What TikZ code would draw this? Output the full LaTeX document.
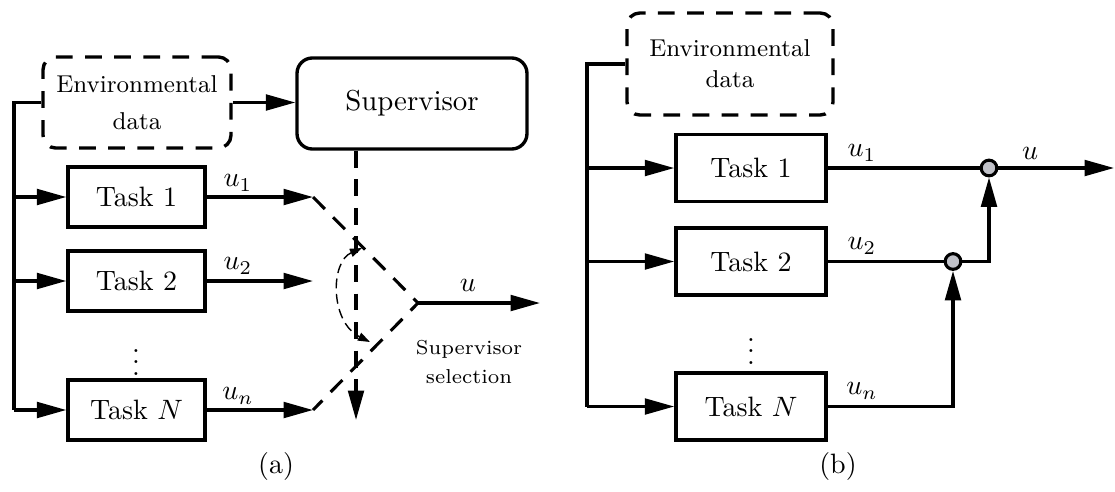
\documentclass[tikz,border=0pt]{standalone}
\usetikzlibrary{arrows.meta}
\definecolor{jfill}{RGB}{192,193,200}
\tikzset{
  box/.style={draw, line width=1.2pt, inner sep=0pt, font=\fontsize{10}{12}\selectfont},
  taskA/.style={box, minimum width=48.9pt, minimum height=21.4pt},
  taskB/.style={box, minimum width=53.6pt, minimum height=23.9pt},
  dbox/.style={draw, line width=1.2pt, dash pattern=on 6pt off 4.4pt, rounded corners=4.5pt,
    align=center, inner sep=0pt},
  wire/.style={line width=1.1pt},
  arr/.style={wire, -{Triangle[length=10.5pt,width=5.6pt]}},
  dwire/.style={line width=1.1pt, dash pattern=on 6pt off 4.2pt},
  darr/.style={dwire, -{Triangle[length=10.5pt,width=5.6pt]}},
  sel/.style={line width=0.5pt, dash pattern=on 3.5pt off 2pt,
    {Triangle[length=4.3pt,width=3pt]}-{Triangle[length=4.3pt,width=3pt]}},
  junc/.style={circle, draw, line width=1.1pt, fill=jfill, minimum size=5.6pt, inner sep=0pt},
  lbl/.style={font=\fontsize{10}{12}\selectfont},
}
\begin{document}
\begin{tikzpicture}[x=0.357pt, y=-0.357pt]
\path[use as bounding box] (0,0) rectangle (1115,491);

% ---------------- (a) supervisor-based selection ----------------
\node[dbox, minimum width=67.1pt, minimum height=32.5pt,
      font=\fontsize{8.7}{13.2}\selectfont] (envA) at (137,102.5) {Environmental\\data};
\node[box, rounded corners=5.5pt, minimum width=82.1pt, minimum height=32.5pt,
      font=\fontsize{10.3}{12}\selectfont] (sup) at (412,103.5) {Supervisor};
\node[taskA] (t1a) at (136.5,197) {Task 1};
\node[taskA] (t2a) at (136.5,281) {Task 2};
\node[taskA] (tna) at (136.5,410) {Task $N$};
\node[lbl] (dotsA) at (136,354) {$\vdots$};

\coordinate (busA) at (14,410);
\draw[wire] (envA.west) -| (busA);
\draw[arr] (busA) -- (tna.west);
\draw[arr] (t1a.west -| busA) -- (t1a.west);
\draw[arr] (t2a.west -| busA) -- (t2a.west);
\draw[arr] (envA.east) -- (envA.east -| sup.west);

\coordinate (o1) at (313,197);
\coordinate (o2) at (313,281);
\coordinate (on) at (313,410);
\draw[arr] (t1a.east) -- (o1);
\draw[arr] (t2a.east) -- (o2);
\draw[arr] (tna.east) -- (on);
\node[lbl] (u1a) at (238,183) {$u_1$};
\node[lbl] (u2a) at (238,266) {$u_2$};
\node[lbl] (una) at (238,396) {$u_n$};

\coordinate (sw) at (418,303);
\coordinate (uoutA) at (540,303);
\draw[dwire] (o1) -- (sw) -- (on);
\draw[arr] (sw) -- (uoutA);
\node[lbl] (uA) at (468,285) {$u$};

\coordinate (sd) at (356,420);
\draw[darr] (sup.south -| sd) -- (sd);

\coordinate (s1) at (362,248);
\coordinate (s2) at (370,342);
\draw[sel] (s1) .. controls (330,262) and (330,322) .. (s2);
\node[align=center, font=\fontsize{7.2}{10.7}\selectfont] (selA) at (469,362)
  {Supervisor\\selection};

\node[font=\fontsize{10}{12}\selectfont] (capA) at (276,466) {(a)};

% ---------------- (b) priority-based merging ----------------
\node[dbox, minimum width=73.5pt, minimum height=36.4pt,
      font=\fontsize{8.7}{11}\selectfont] (envB) at (730,64) {Environmental\\data};
\node[taskB] (t1b) at (751,168) {Task 1};
\node[taskB] (t2b) at (751,261.5) {Task 2};
\node[taskB] (tnb) at (751,406.5) {Task $N$};
\node[lbl] (dotsB) at (751,343) {$\vdots$};

\coordinate (busB) at (587,406.5);
\draw[wire] (envB.west) -| (busB);
\draw[arr] (busB) -- (tnb.west);
\draw[arr] (t1b.west -| busB) -- (t1b.west);
\draw[arr] (t2b.west -| busB) -- (t2b.west);

\node[junc] (c1) at (989,168) {};
\node[junc] (c2) at (953,261.5) {};
\coordinate (uoutB) at (1114,168);
\draw[wire] (t1b.east) -- (c1.west);
\draw[wire] (t2b.east) -- (c2.west);
\draw[arr] (c1.east) -- (uoutB);
\draw[arr] (c2.east) -| (c1.south);
\draw[arr] (tnb.east) -| (c2.south);
\node[lbl] (u1b) at (862,153) {$u_1$};
\node[lbl] (u2b) at (862,246) {$u_2$};
\node[lbl] (unb) at (862,391) {$u_n$};
\node[lbl] (uB) at (1030,153) {$u$};

\node[font=\fontsize{10}{12}\selectfont] (capB) at (838,466) {(b)};
\end{tikzpicture}
\end{document}
